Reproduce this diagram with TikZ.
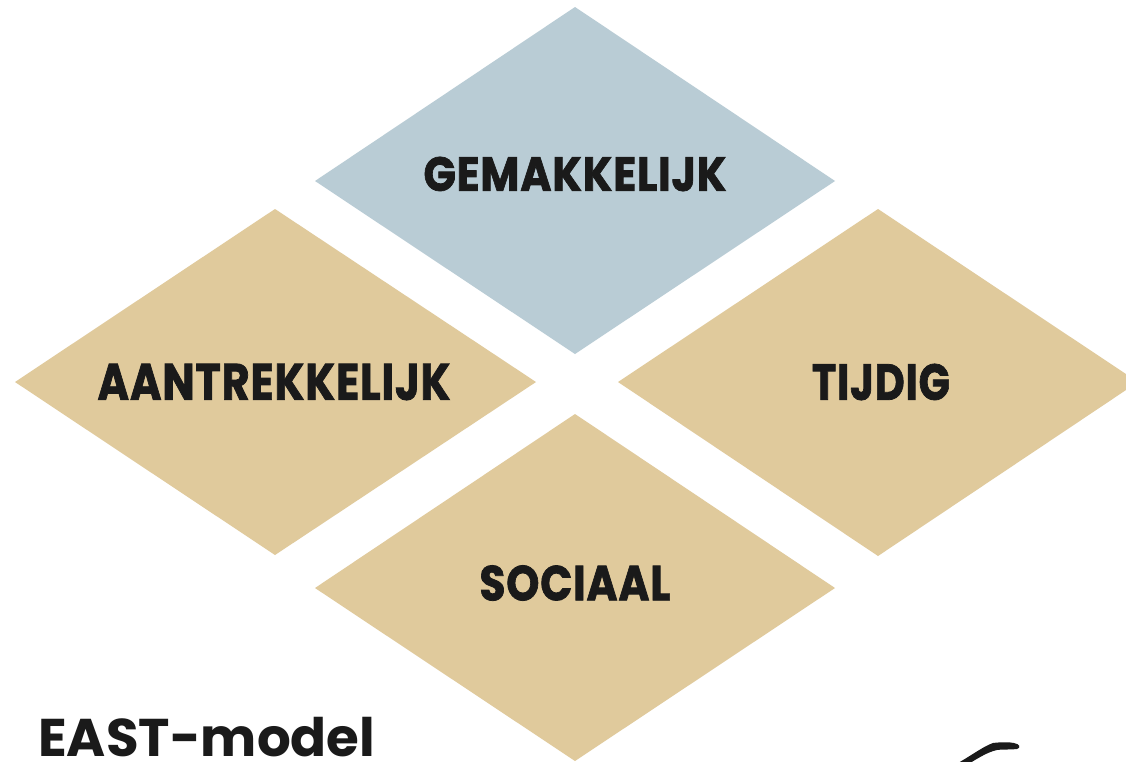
\documentclass[tikz,border=0pt]{standalone}
\usepackage{fontspec}
\usepackage{graphicx}
\setmainfont{Poppins}[BoldFont={* Bold}]
\newfontfamily\heavyfont{Poppins Bold}[FakeBold=1.6,LetterSpace=2]
\definecolor{tan}{HTML}{E0CA9C}
\definecolor{steel}{HTML}{B9CCD5}
\definecolor{ink}{HTML}{1A1A1A}
\tikzset{
  tile/.style={fill=tan,draw=none},
  bluetile/.style={fill=steel,draw=none},
  lab/.style={text=ink,inner sep=0pt,font=\fontsize{44}{44}\selectfont\heavyfont,anchor=center},
}
\begin{document}
\begin{tikzpicture}[x=1pt,y=-1pt]
\useasboundingbox[fill=white] (0,0) rectangle (1126,761);
\begin{scope}
\clip (0,0) rectangle (1126,761);
\fill[bluetile] (575,7) -- (835,181) -- (575,354) -- (315,181) -- cycle;
\fill[tile] (275,209) -- (536,382) -- (275,555) -- (15,382) -- cycle;
\fill[tile] (878,209) -- (1138,382) -- (878,556) -- (618,382) -- cycle;
\fill[tile] (575,414) -- (835,588) -- (575,761) -- (315,588) -- cycle;
\fill[ink] (958,763) .. controls (972,755) and (984,746) .. (993,743) .. controls (1001,742) and (1010,742) .. (1014,743)
  .. controls (1020,744) and (1021,748) .. (1017,749) .. controls (1010,750) and (1002,749) .. (997,750)
  .. controls (988,752) and (980,757) .. (970,763) -- cycle;
\end{scope}
\node[lab] (g) at (575,174) {\resizebox{303pt}{34pt}{GEMAKKELIJK}};
\node[lab] (a) at (274,382) {\resizebox{353pt}{36pt}{AANTREKKELIJK}};
\node[lab] (t) at (881,382) {\resizebox{138pt}{36pt}{TIJDIG}};
\node[lab] (s) at (575,583) {\resizebox{191pt}{35pt}{SOCIAAL}};
\node[text=ink,inner sep=0pt,anchor=base west,font=\fontsize{56}{56}\selectfont\bfseries] (e) at (38,756) {\resizebox{337pt}{!}{EAST-model}};
\end{tikzpicture}
\end{document}
